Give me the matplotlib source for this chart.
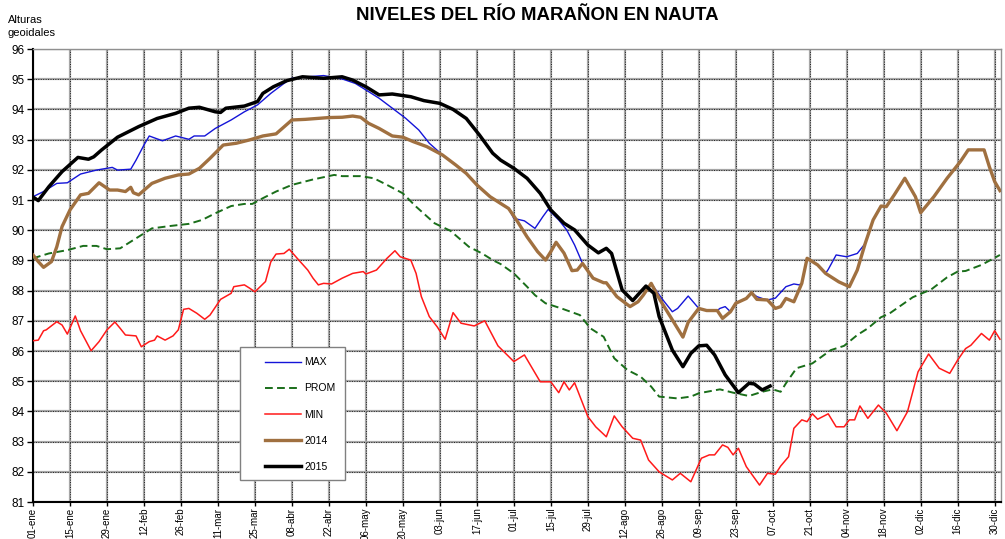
import matplotlib
matplotlib.use('Agg')
import matplotlib.pyplot as plt
from matplotlib.patches import Rectangle

plt.rcParams['font.family'] = ['Liberation Sans', 'DejaVu Sans']

# ---------------- data ----------------
tick_labels = ['01-ene', '15-ene', '29-ene', '12-feb', '26-feb', '11-mar', '25-mar',
               '08-abr', '22-abr', '06-may', '20-may', '03-jun', '17-jun', '01-jul',
               '15-jul', '29-jul', '12-ago', '26-ago', '09-sep', '23-sep', '07-oct',
               '21-oct', '04-nov', '18-nov', '02-dic', '16-dic', '30-dic']
tick_days = [0, 14, 28, 42, 56, 70, 84, 98, 112, 126, 140, 154, 168, 182, 196, 210,
             224, 238, 252, 266, 280, 294, 308, 322, 336, 350, 364]

y_ticks = [81, 82, 83, 84, 85, 86, 87, 88, 89, 90, 91, 92, 93, 94, 95, 96]

max_days = [0, 4, 9, 13, 18, 24, 30, 32, 37, 39, 42, 44, 49, 54, 59, 61, 65, 69, 75, 80,
            85, 90, 95, 98, 104, 110, 117, 122, 127, 131, 136, 141, 146, 150,
            155, 160, 164, 168, 173, 178, 180, 182, 186, 190, 193, 195, 199, 202, 205,
            208, 212, 216, 217, 221, 226, 229, 231, 234, 238, 242, 244, 248, 252, 255,
            259, 260, 262, 264, 266, 270, 272, 274, 276, 278, 281, 285, 288, 290, 291,
            293, 297, 300, 301, 304, 308, 312, 314, 315, 318, 321, 323, 326, 330, 334,
            336, 341, 346, 351, 354, 360, 362, 364, 366]
max_vals = [91.11, 91.28, 91.55, 91.57, 91.86, 91.99, 92.08, 91.99, 92.02, 92.32, 92.82,
            93.12, 92.96, 93.12, 93.01, 93.12, 93.12, 93.37, 93.65, 93.92, 94.15, 94.53,
            94.86, 95.03, 95.08, 95.12, 95.01, 94.86, 94.59, 94.37, 94.04, 93.71, 93.32,
            92.88, 92.49, 92.16, 91.88, 91.50, 91.11, 90.83, 90.72, 90.39, 90.31, 90.06,
            90.45, 90.69, 90.34, 90.01, 89.51, 88.90, 88.41, 88.26, 88.26, 87.80, 87.47,
            87.63, 87.85, 88.24, 87.74, 87.30, 87.41, 87.82, 87.41, 87.34, 87.34, 87.41,
            87.47, 87.30, 87.58, 87.74, 87.93, 87.80, 87.74, 87.69, 87.75, 88.13, 88.22,
            88.19, 88.24, 89.07, 88.85, 88.57, 88.70, 89.18, 89.12, 89.23, 89.45, 89.56,
            90.34, 90.80, 90.78, 91.17, 91.72, 91.11, 90.58, 91.11, 91.72, 92.27, 92.66,
            92.66, 92.10, 91.61, 91.31]

prom_days = [0, 6, 13, 19, 24, 28, 33, 39, 45, 52, 59, 64, 69, 75, 80, 83, 87, 92, 98,
             106, 114, 117, 124, 129, 134, 140, 145, 152, 158, 165, 170, 174, 177, 182,
             187, 190, 194, 200, 207, 211, 216, 220, 225, 230, 234, 237, 244, 249, 252,
             260, 265, 271, 276, 280, 283, 285, 289, 295, 302, 307, 312, 316, 321, 324,
             333, 340, 346, 350, 353, 359, 366]
prom_vals = [89.07, 89.23, 89.34, 89.48, 89.48, 89.37, 89.40, 89.73, 90.06, 90.14, 90.21,
             90.34, 90.56, 90.80, 90.87, 90.87, 91.06, 91.28, 91.50, 91.68, 91.83, 91.79,
             91.79, 91.72, 91.50, 91.22, 90.78, 90.23, 89.98, 89.45, 89.23, 89.01, 88.88,
             88.57, 88.13, 87.85, 87.58, 87.41, 87.19, 86.75, 86.47, 85.76, 85.37, 85.15,
             84.82, 84.49, 84.43, 84.49, 84.60, 84.73, 84.62, 84.51, 84.65, 84.73, 84.65,
             84.93, 85.43, 85.59, 86.03, 86.17, 86.53, 86.75, 87.12, 87.23, 87.78, 88.04,
             88.44, 88.63, 88.65, 88.85, 89.18]

min_days = [0, 2, 4, 5, 9, 11, 13, 16, 18, 22, 25, 28, 31, 33, 35, 39, 41, 44, 46, 47,
            50, 53, 55, 57, 59, 62, 65, 67, 71, 75, 76, 80, 82, 84, 88, 90, 92, 95, 97,
            100, 104, 106, 108, 110, 113, 117, 121, 125, 126, 130, 134, 137, 139, 143,
            145, 147, 150, 153, 156, 159, 162, 167, 171, 176, 182, 186, 192, 196, 199,
            201, 203, 205, 210, 213, 217, 220, 223, 227, 230, 233, 237, 242, 245, 249,
            253, 256, 258, 261, 263, 265, 267, 270, 275, 278, 281, 283, 286, 288, 291,
            293, 295, 297, 301, 304, 307, 309, 311, 313, 316, 320, 323, 327, 331, 335,
            339, 343, 347, 350, 353, 355, 359, 362, 364, 366]
min_vals = [86.34, 86.36, 86.67, 86.70, 86.97, 86.86, 86.56, 87.16, 86.67, 86.01, 86.31,
            86.70, 86.96, 86.75, 86.53, 86.50, 86.14, 86.31, 86.36, 86.50, 86.36, 86.50,
            86.70, 87.38, 87.41, 87.25, 87.05, 87.19, 87.71, 87.91, 88.13, 88.19, 88.08,
            87.96, 88.30, 88.95, 89.21, 89.23, 89.37, 89.07, 88.68, 88.41, 88.19, 88.24,
            88.22, 88.41, 88.57, 88.63, 88.55, 88.68, 89.07, 89.32, 89.12, 89.01, 88.57,
            87.80, 87.14, 86.80, 86.39, 87.27, 86.92, 86.83, 87.00, 86.17, 85.65, 85.87,
            84.98, 84.98, 84.62, 84.98, 84.71, 84.95, 83.83, 83.49, 83.16, 83.85, 83.49,
            83.11, 83.05, 82.39, 82.00, 81.73, 81.95, 81.67, 82.45, 82.56, 82.56, 82.89,
            82.81, 82.56, 82.78, 82.17, 81.56, 81.95, 81.92, 82.19, 82.50, 83.44, 83.72,
            83.66, 83.92, 83.74, 83.92, 83.49, 83.49, 83.72, 83.72, 84.18, 83.77, 84.21,
            83.94, 83.36, 83.99, 85.31, 85.90, 85.43, 85.26, 85.70, 86.08, 86.19, 86.58,
            86.36, 86.67, 86.39]

y2014_days = [0, 2, 4, 7, 9, 11, 14, 18, 21, 25, 29, 32, 35, 37, 38, 40, 45, 50, 55, 59,
              63, 67, 72, 77, 82, 87, 92, 98, 103, 112, 117, 121, 124, 127, 131, 136, 140,
              144, 149, 155, 160, 164, 168, 173, 178, 180, 183, 187, 191, 194, 196, 198,
              201, 204, 206, 208, 212, 216, 217, 221, 226, 229, 231, 234, 237, 242, 246,
              248, 252, 255, 259, 261, 264, 266, 270, 272, 274, 278, 281, 283, 285, 288,
              291, 293, 297, 300, 305, 309, 312, 315, 318, 321, 323, 326, 330, 334, 336,
              341, 346, 351, 354, 360, 362, 364, 366]
y2014_vals = [89.18, 88.96, 88.77, 88.96, 89.45, 90.12, 90.67, 91.17, 91.22, 91.57, 91.33,
              91.33, 91.28, 91.42, 91.24, 91.17, 91.55, 91.72, 91.83, 91.86, 92.05, 92.38,
              92.82, 92.88, 92.99, 93.12, 93.19, 93.65, 93.67, 93.73, 93.74, 93.78, 93.74,
              93.54, 93.37, 93.12, 93.08, 92.93, 92.77, 92.49, 92.16, 91.88, 91.50, 91.11,
              90.83, 90.72, 90.34, 89.78, 89.29, 89.01, 89.29, 89.60, 89.24, 88.66, 88.68,
              88.90, 88.41, 88.26, 88.26, 87.80, 87.47, 87.63, 87.85, 88.24, 87.74, 87.03,
              86.46, 86.95, 87.41, 87.34, 87.34, 87.08, 87.30, 87.58, 87.74, 87.93, 87.71,
              87.69, 87.41, 87.47, 87.74, 87.63, 88.24, 89.07, 88.85, 88.57, 88.29, 88.13,
              88.68, 89.56, 90.34, 90.80, 90.78, 91.17, 91.72, 91.11, 90.58, 91.11, 91.72,
              92.27, 92.66, 92.66, 92.10, 91.61, 91.31]

y2015_days = [0, 2, 6, 11, 17, 21, 23, 26, 32, 40, 47, 54, 59, 63, 69, 71, 73, 80, 85, 87,
              91, 96, 102, 110, 117, 121, 126, 131, 136, 143, 148, 154, 159, 164, 169, 174,
              177, 182, 187, 192, 196, 201, 205, 210, 214, 217, 219, 223, 227, 230, 232,
              235, 237, 242, 246, 249, 252, 255, 258, 262, 267, 271, 273, 276, 279]
y2015_vals = [91.10, 90.98, 91.44, 91.94, 92.41, 92.35, 92.43, 92.66, 93.08, 93.43, 93.70,
              93.87, 94.04, 94.07, 93.92, 93.90, 94.04, 94.11, 94.26, 94.53, 94.75, 94.95,
              95.08, 95.03, 95.08, 94.97, 94.75, 94.48, 94.51, 94.42, 94.29, 94.20, 94.00,
              93.70, 93.15, 92.55, 92.32, 92.05, 91.72, 91.22, 90.67, 90.23, 90.01, 89.51,
              89.25, 89.40, 89.23, 88.02, 87.67, 87.96, 88.15, 87.91, 87.14, 86.03, 85.48,
              85.92, 86.17, 86.19, 85.87, 85.21, 84.62, 84.93, 84.91, 84.71, 84.84]

series_names = ['MAX', 'PROM', 'MIN', '2014', '2015']

# ---------------- figure ----------------
W, H = 1005, 539
fig = plt.figure(figsize=(W / 100, H / 100), dpi=100)
ax = fig.add_axes([33 / W, 1 - 502 / H, (1001 - 33) / W, (502 - 49) / H])

l_max, = ax.plot(max_days, max_vals, color='#1414d8', lw=1.0, label=series_names[0], zorder=3)
l_prom, = ax.plot(prom_days, prom_vals, color='#1a6e1a', lw=1.4, dashes=(4, 2.2),
                  label=series_names[1], zorder=3)
l_min, = ax.plot(min_days, min_vals, color='#ff1a1a', lw=1.1, label=series_names[2], zorder=3)
l_14, = ax.plot(y2014_days, y2014_vals, color='#a07040', lw=2.4, label=series_names[3], zorder=4)
l_15, = ax.plot(y2015_days, y2015_vals, color='#000000', lw=2.5, label=series_names[4], zorder=5)

ax.set_xlim(0, 366.4)
ax.set_ylim(81, 96)
ax.set_xticks(tick_days)
ax.set_xticklabels(tick_labels, rotation=90, fontsize=7.0)
ax.set_yticks(y_ticks)
ax.set_yticklabels([str(v) for v in y_ticks], fontsize=8.5)
ax.tick_params(axis='y', direction='out', length=4, width=1, color='black', pad=2)
ax.tick_params(axis='x', direction='out', length=3, width=1, color='black', pad=1)

# grid: gray band with dotted dark centre
ax.set_xticks(tick_days, minor=True)
ax.set_yticks(y_ticks, minor=True)
ax.xaxis.remove_overlapping_locs = False
ax.yaxis.remove_overlapping_locs = False
ax.tick_params(which='minor', length=0)
ax.grid(True, which='major', color='#a6a6a6', lw=1.6, ls='-', zorder=0)
ax.grid(True, which='minor', color='#202020', lw=0.7, ls=(0, (1, 1.5)), zorder=0)
ax.set_axisbelow(True)

for s in ['left', 'bottom']:
    ax.spines[s].set_color('black')
    ax.spines[s].set_linewidth(1.5)
for s in ['top', 'right']:
    ax.spines[s].set_color('#909090')
    ax.spines[s].set_linewidth(1.0)

# legend box
box = Rectangle((240 / W, 1 - 480 / H), 105 / W, 133 / H, transform=fig.transFigure,
                facecolor='white', edgecolor='#808080', lw=1.0, zorder=8, clip_on=False)
ax.add_patch(box)
leg = ax.legend(handles=[l_max, l_prom, l_min, l_14, l_15], loc='upper left',
                bbox_to_anchor=(260 / W, 1 - 352 / H), bbox_transform=fig.transFigure,
                frameon=False, fontsize=7.5, borderpad=0, handlelength=3.4,
                handletextpad=0.35, labelspacing=1.55)
leg.set_zorder(9)

fig.text(537 / W, 1 - 16 / H, 'NIVELES DEL RÍO MARAÑON EN NAUTA', ha='center', va='center',
         fontsize=13.4, fontweight='bold')
fig.text(8 / W, 1 - 20 / H, 'Alturas', ha='left', va='center', fontsize=8)
fig.text(8 / W, 1 - 33 / H, 'geoidales', ha='left', va='center', fontsize=8)

fig.savefig('out.png', dpi=100)
